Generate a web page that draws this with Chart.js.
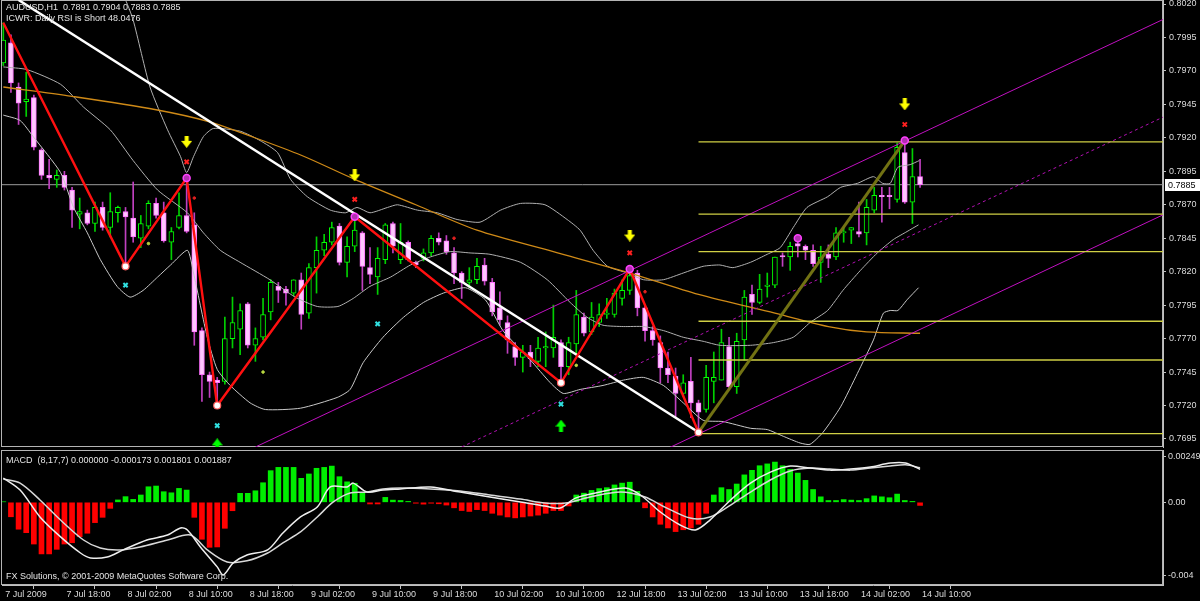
<!DOCTYPE html>
<html>
<head>
<meta charset="utf-8">
<script src="https://cdn.jsdelivr.net/npm/chart.js@4.4.1/dist/chart.umd.min.js"></script>
<style>
html, body { margin: 0; padding: 0; background: #000; width: 1200px; height: 601px; overflow: hidden; }
#pA { position: absolute; left: 0; top: 0; }
#pB { position: absolute; left: 0; top: 448px; }
</style>
</head>
<body>
<canvas id="pA" width="1200" height="448"></canvas>
<canvas id="pB" width="1200" height="153"></canvas>
<script>
// AUDUSD H1, bar 0 = 7 Jul 2009 10:00
var opens = [0.7976,0.7991,0.7958,0.7947,0.7950,0.7911,0.7892,0.7889,0.7892,0.7881,
  0.7863,0.7864,0.7856,0.7868,0.7853,0.7864,0.7865,0.7860,0.7845,0.7854,
  0.7871,0.7864,0.7842,0.7853,0.7862,0.7855,0.7776,0.7743,0.7739,0.7738,
  0.7770,0.7777,0.7796,0.7765,0.7771,0.7790,0.7809,0.7807,0.7804,0.7814,
  0.7789,0.7823,0.7836,0.7842,0.7854,0.7827,0.7839,0.7849,0.7823,0.7816,
  0.7829,0.7856,0.7829,0.7842,0.7827,0.7830,0.7834,0.7845,0.7843,0.7834,
  0.7819,0.7812,0.7814,0.7825,0.7812,0.7793,0.7782,0.7764,0.7756,0.7760,
  0.7753,0.7763,0.7763,0.7767,0.7749,0.7766,0.7786,0.7775,0.7782,0.7788,
  0.7788,0.7800,0.7806,0.7819,0.7793,0.7776,0.7767,0.7748,0.7742,0.7729,
  0.7738,0.7722,0.7717,0.7738,0.7739,0.7764,0.7734,0.7769,0.7803,0.7797,
  0.7809,0.7810,0.7832,0.7831,0.7841,0.7839,0.7836,0.7827,0.7833,0.7831,
  0.7849,0.7851,0.7850,0.7849,0.7866,0.7877,0.7877,0.7874,0.7909,0.7872,
  0.7891];
var highs = [0.8006,0.7997,0.7961,0.7969,0.7952,0.7912,0.7904,0.7896,0.7895,0.7883,
  0.7875,0.7866,0.7872,0.7872,0.7879,0.7869,0.7868,0.7887,0.7862,0.7873,
  0.7875,0.7872,0.7853,0.7879,0.7890,0.7864,0.7778,0.7745,0.7741,0.7786,
  0.7801,0.7796,0.7797,0.7778,0.7800,0.7814,0.7812,0.7809,0.7814,0.7819,
  0.7826,0.7846,0.7848,0.7857,0.7856,0.7846,0.7861,0.7850,0.7838,0.7838,
  0.7856,0.7857,0.7856,0.7843,0.7828,0.7837,0.7847,0.7849,0.7847,0.7838,
  0.7820,0.7823,0.7830,0.7830,0.7815,0.7805,0.7787,0.7767,0.7765,0.7765,
  0.7771,0.7775,0.7795,0.7769,0.7771,0.7806,0.7789,0.7797,0.7796,0.7800,
  0.7807,0.7814,0.7822,0.7821,0.7795,0.7779,0.7772,0.7760,0.7748,0.7743,
  0.7756,0.7724,0.7750,0.7760,0.7777,0.7771,0.7774,0.7806,0.7810,0.7818,
  0.7819,0.7831,0.7834,0.7842,0.7846,0.7840,0.7840,0.7839,0.7840,0.7853,
  0.7853,0.7853,0.7872,0.7874,0.7883,0.7883,0.7883,0.7916,0.7918,0.7912,
  0.7904];
var lows = [0.7974,0.7954,0.7930,0.7936,0.7911,0.7889,0.7882,0.7883,0.7881,0.7853,
  0.7852,0.7855,0.7850,0.7851,0.7846,0.7857,0.7824,0.7842,0.7838,0.7852,
  0.7860,0.7842,0.7829,0.7852,0.7849,0.7765,0.7723,0.7726,0.7720,0.7736,
  0.7763,0.7758,0.7763,0.7753,0.7769,0.7784,0.7797,0.7795,0.7802,0.7777,
  0.7785,0.7804,0.7832,0.7840,0.7825,0.7816,0.7835,0.7806,0.7811,0.7803,
  0.7826,0.7834,0.7826,0.7828,0.7823,0.7828,0.7832,0.7840,0.7833,0.7811,
  0.7800,0.7808,0.7811,0.7810,0.7787,0.7780,0.7759,0.7750,0.7745,0.7749,
  0.7749,0.7749,0.7756,0.7737,0.7743,0.7758,0.7772,0.7773,0.7779,0.7785,
  0.7786,0.7795,0.7803,0.7787,0.7768,0.7765,0.7737,0.7737,0.7711,0.7727,
  0.7711,0.7700,0.7715,0.7722,0.7739,0.7732,0.7729,0.7754,0.7788,0.7796,
  0.7801,0.7808,0.7824,0.7821,0.7831,0.7829,0.7824,0.7812,0.7823,0.7829,
  0.7842,0.7841,0.7846,0.7840,0.7864,0.7857,0.7867,0.7872,0.7871,0.7856,
  0.7883];
var closes = [0.7993,0.7961,0.7946,0.7949,0.7913,0.7892,0.7890,0.7892,0.7883,0.7866,
  0.7865,0.7856,0.7868,0.7853,0.7865,0.7868,0.7861,0.7846,0.7856,0.7871,
  0.7862,0.7843,0.7850,0.7862,0.7850,0.7775,0.7743,0.7738,0.7737,0.7770,
  0.7782,0.7791,0.7765,0.7770,0.7788,0.7812,0.7806,0.7804,0.7814,0.7788,
  0.7823,0.7836,0.7842,0.7853,0.7827,0.7839,0.7851,0.7824,0.7818,0.7830,
  0.7855,0.7839,0.7842,0.7829,0.7825,0.7834,0.7845,0.7842,0.7835,0.7819,
  0.7812,0.7814,0.7824,0.7813,0.7790,0.7784,0.7769,0.7756,0.7760,0.7755,
  0.7763,0.7764,0.7771,0.7749,0.7767,0.7788,0.7774,0.7786,0.7788,0.7789,
  0.7804,0.7806,0.7817,0.7793,0.7776,0.7769,0.7748,0.7743,0.7729,0.7737,
  0.7722,0.7715,0.7741,0.7741,0.7767,0.7734,0.7768,0.7801,0.7797,0.7807,
  0.7810,0.7831,0.7831,0.7839,0.7839,0.7836,0.7826,0.7831,0.7830,0.7849,
  0.7850,0.7853,0.7848,0.7868,0.7877,0.7876,0.7876,0.7913,0.7872,0.7891,
  0.7885];

var priceTicks = [0.8020,0.7995,0.7970,0.7945,0.7920,0.7895,0.7870,0.7845,0.7820,0.7795,0.7770,0.7745,0.7720,0.7695];
var timeTickIdx = [0,8,16,24,32,40,48,56,64,72,80,88,96,104,112,120];
var timeTicks = ['7 Jul 2009','7 Jul 18:00','8 Jul 02:00','8 Jul 10:00','8 Jul 18:00','9 Jul 02:00','9 Jul 10:00',
  '9 Jul 18:00','10 Jul 02:00','10 Jul 10:00','12 Jul 18:00','13 Jul 02:00','13 Jul 10:00','13 Jul 18:00',
  '14 Jul 02:00','14 Jul 10:00'];

// drawn objects, [bar, price]
var zigzag = [[0,0.8006],[16,0.7824],[24,0.7890],[28,0.7720],[46,0.7861],[73,0.7737],[82,0.7822],[91,0.7700]];
var fibLeg = [[91,0.7700],[118,0.7918]];
var trendLine = [[2,0.8023],[91,0.7700]];
var chanUpper = [[33,0.7689],[152,0.8009]];
var chanMid = [[60,0.7689],[152,0.7936]];
var chanLower = [[87,0.7688],[152,0.7863]];
var fibLevels = [0.7917,0.7863,0.7835,0.7783,0.7754,0.7699];
var fibStart = 91;

var slowMa = [[0,0.7958],[9,0.7951],[20,0.7941],[27,0.7932],[32,0.7922],[39,0.7907],[46,0.7889],[54,0.7870],
  [62,0.7851],[72,0.7835],[82,0.7819],[91,0.7803],[101,0.7789],[108,0.7779],[113,0.7775],[120,0.7774]];
var bbUpper = [[12,0.8068],[16,0.8023],[17,0.8008],[19.2,0.7958],[21.5,0.7926],[23.2,0.7906],[24,0.7894],[24.9,0.7906],
  [26.2,0.7921],[27.5,0.7927],[31,0.7925],[33.6,0.7918],[35.9,0.7909],[37.6,0.7889],[39.8,0.7876],[42.8,0.7866],
  [44.8,0.7864],[46.3,0.7868],[48,0.7864],[50.3,0.7868],[51.6,0.7870],[54.2,0.7866],[56.8,0.7864],[59.4,0.7859],
  [62.4,0.7857],[65.1,0.7866],[67.7,0.7871],[70.9,0.7870],[73.8,0.7859],[75.5,0.7851],[77.2,0.7836],[79.1,0.7824],
  [81.7,0.7819],[83.8,0.7814],[86.4,0.7814],[89,0.7819],[91.6,0.7824],[93.8,0.7825],[95.5,0.7823],[97.8,0.7827],
  [100,0.7833],[101.7,0.7838],[103.4,0.7853],[105.2,0.7868],[107.9,0.7876],[109.6,0.7883],[111.8,0.7886],
  [113.9,0.7891],[115.1,0.7886],[116.1,0.7886],[117.1,0.7898],[118.7,0.7900],[119.9,0.7903]];
var bbMid = [[0,0.7973],[3.1,0.7971],[7.5,0.7960],[10.5,0.7943],[14,0.7926],[17,0.7903],[20.2,0.7881],[24.1,0.7864],
  [26.2,0.7849],[28.4,0.7836],[31,0.7827],[34.9,0.7814],[38.2,0.7801],[41.1,0.7794],[43.8,0.7794],[45.8,0.7800],
  [48,0.7809],[50.7,0.7816],[53.3,0.7825],[55.9,0.7831],[58.5,0.7835],[61.1,0.7834],[63.7,0.7833],[67.7,0.7827],
  [71.2,0.7814],[74.2,0.7797],[76.4,0.7786],[78.5,0.7780],[81.2,0.7779],[83.8,0.7779],[86.4,0.7776],[89,0.7771],
  [91.6,0.7768],[93.8,0.7765],[97.8,0.7765],[100.8,0.7767],[103.4,0.7771],[105.6,0.7782],[107.9,0.7791],
  [109.9,0.7806],[112.2,0.7821],[114.4,0.7834],[116.5,0.7844],[118.3,0.7850],[119.8,0.7855]];
var bbLower = [[0,0.7937],[2.2,0.7933],[3.9,0.7921],[7.5,0.7894],[9.2,0.7868],[11,0.7849],[12.7,0.7829],[14.9,0.7809],
  [16.6,0.7801],[18.3,0.7806],[20.2,0.7816],[21.9,0.7825],[24.1,0.7836],[24.9,0.7819],[26.7,0.7771],[28,0.7747],
  [29.7,0.7735],[32.3,0.7722],[34.3,0.7717],[38.9,0.7718],[43.7,0.7726],[45.4,0.7732],[47.1,0.7752],[49.7,0.7771],
  [52.4,0.7786],[55,0.7797],[57.6,0.7804],[60.5,0.7808],[63.1,0.7799],[65.4,0.7776],[69,0.7754],[71.6,0.7737],
  [73.3,0.7729],[75.5,0.7732],[78.5,0.7735],[81.2,0.7739],[83.8,0.7741],[86.4,0.7735],[89,0.7722],[91.6,0.7709],
  [94.2,0.7708],[97.8,0.7703],[100,0.7702],[102.1,0.7697],[104.3,0.7692],[105.6,0.7691],[107.3,0.7700],
  [109.6,0.7719],[111.8,0.7744],[113.9,0.7769],[115.2,0.7789],[116.1,0.7791],[117.1,0.7791],[118.3,0.7799],[119.8,0.7808]];

var sellArrows = [[24,0.7917],[46,0.7892],[82,0.7847],[118,0.7945]];
var sellCross = [[24,0.7902],[46,0.7874],[82,0.7834],[118,0.7930]];
var buyArrows = [[28,0.7691],[73,0.7705]];
var buyCross = [[16,0.7810],[28,0.7705],[49,0.7781],[73,0.7721],[91,0.7686]];
var topMarks = [[24,0.7890],[46,0.7861],[82,0.7822],[104,0.7845],[118,0.7918]];
var lowMarks = [[16,0.7824],[28,0.7720],[73,0.7737],[91,0.7700]];
var redDots = [[25,0.7875],[59,0.7845],[84,0.7805]];
var limeDots = [[19,0.7841],[34,0.7745],[75,0.7750]];

// MACD (8,17,7)
var macdHist = [0.00003,-0.00079,-0.00147,-0.00166,-0.00228,-0.00282,-0.00282,-0.00257,-0.00228,-0.00221,
  -0.00188,-0.00169,-0.00111,-0.00082,-0.00033,0.00013,0.00031,0.00016,0.00040,0.00085,
  0.00089,0.00058,0.00052,0.00076,0.00067,-0.00082,-0.00202,-0.00246,-0.00244,-0.00142,
  -0.00046,0.00049,0.00049,0.00063,0.00107,0.00173,0.00191,0.00191,0.00191,0.00131,
  0.00155,0.00186,0.00191,0.00198,0.00140,0.00112,0.00104,0.00049,-0.00009,-0.00009,
  0.00027,0.00012,0.00010,0.00005,-0.00005,-0.00010,-0.00005,-0.00008,-0.00015,-0.00030,
  -0.00045,-0.00050,-0.00040,-0.00045,-0.00060,-0.00070,-0.00080,-0.00085,-0.00080,-0.00075,
  -0.00070,-0.00060,-0.00045,-0.00045,-0.00020,0.00040,0.00050,0.00065,0.00075,0.00080,
  0.00095,0.00105,0.00110,0.00060,-0.00030,-0.00080,-0.00120,-0.00140,-0.00160,-0.00150,
  -0.00140,-0.00120,-0.00060,0.00040,0.00080,0.00070,0.00100,0.00150,0.00175,0.00200,
  0.00210,0.00220,0.00200,0.00180,0.00160,0.00120,0.00070,0.00030,0.00010,0.00010,
  0.00015,0.00012,0.00010,0.00020,0.00035,0.00030,0.00025,0.00045,0.00010,0.00005,
  -0.00017];
var macdMain = [[0,0.00133],[2.2,0.00067],[4.8,-0.00080],[7.5,-0.00189],[10.1,-0.00277],[11.4,-0.00304],[13.6,-0.00299],
  [15.7,-0.00260],[18.8,-0.00206],[21.5,-0.00179],[23.2,-0.00140],[24.1,-0.00151],[25.8,-0.00244],[28,-0.00353],
  [28.8,-0.00397],[30.1,-0.00331],[31.9,-0.00288],[34.6,-0.00260],[36.6,-0.00168],[38.9,-0.00080],[41.1,-0.00026],
  [42.8,0.00084],[45,0.00084],[45.8,0.00105],[47.6,0.00056],[49.7,0.00067],[52,0.00073],[55.9,0.00084],[59.8,0.00056],
  [63.7,0.00029],[67.7,0.00002],[70.9,-0.00020],[72.9,-0.00031],[74.9,0.00023],[78.1,0.00056],[81.4,0.00078],
  [83.4,0.00040],[86,-0.00053],[88.6,-0.00124],[90.6,-0.00151],[92.5,-0.00097],[95.2,0.00013],[97.8,0.00105],
  [100.4,0.00165],[103,0.00198],[105.6,0.00187],[108.2,0.00176],[110.9,0.00182],[113.5,0.00193],[116.1,0.00215],
  [118.1,0.00215],[120,0.00180]];
var macdSignal = [[0,0.00127],[2.2,0.00105],[4.8,0.00013],[7.5,-0.00097],[10.5,-0.00206],[12.7,-0.00250],[15.3,-0.00260],
  [17.9,-0.00244],[21.5,-0.00206],[24.5,-0.00179],[26.7,-0.00260],[29.3,-0.00326],[31.9,-0.00320],[34.6,-0.00277],
  [36.6,-0.00222],[38.9,-0.00162],[41.1,-0.00080],[43.2,0.00002],[45.4,0.00051],[47.6,0.00056],[49.7,0.00073],
  [52,0.00078],[55.9,0.00073],[59.8,0.00062],[63.7,0.00040],[67.7,0.00018],[70.9,-0.00004],[73.6,-0.00004],
  [76.8,0.00029],[80.8,0.00056],[84,0.00029],[86.6,-0.00026],[89.9,-0.00086],[92.5,-0.00080],[95.2,-0.00015],
  [97.8,0.00056],[100.4,0.00122],[103,0.00171],[105.6,0.00187],[108.2,0.00182],[110.9,0.00176],[113.5,0.00187],
  [116.1,0.00198],[118.1,0.00205],[120,0.00189]];
var macdTicks = [0.00249, 0, -0.004];
var macdTickText = ['0.00249', '0.00', '-0.004'];

Chart.defaults.font.family = '"Liberation Sans", Arial, sans-serif';
Chart.defaults.font.size = 9;

var xMin = -0.17, xMax = 151.8;
var last = closes.length - 1;
var idx = closes.map(function (c, i) { return i; });
var isUp = closes.map(function (c, i) { return c >= opens[i]; });

function pts(arr) { return arr.map(function (p) { return {x: p[0], y: p[1]}; }); }

function line(data, color, width, order, dash, tension) {
  return { type: 'line', data: data, borderColor: color, borderWidth: width, pointRadius: 0,
    tension: tension || 0, fill: false, borderDash: dash || [], order: order };
}

function marks(data, style, radius, stroke, fillc, bw, order) {
  return { type: 'scatter', data: pts(data), showLine: false, pointStyle: style, pointRadius: radius,
    pointBorderColor: stroke, pointBackgroundColor: fillc, pointBorderWidth: bw, order: order };
}

function arrowImg(color, down) {
  var c = document.createElement('canvas');
  c.width = 11; c.height = 12;
  var g = c.getContext('2d');
  g.fillStyle = color;
  var p = [[3.5,0],[7.5,0],[7.5,5],[11,5],[5.5,12],[0,5],[3.5,5]];
  g.beginPath();
  p.forEach(function (q, k) {
    var y = down ? q[1] : 12 - q[1];
    if (k) g.lineTo(q[0], y); else g.moveTo(q[0], y);
  });
  g.closePath();
  g.fill();
  return c;
}

// no half-label padding, the panels are fixed like the terminal's
function noPad(s) {
  s.paddingTop = 0; s.paddingBottom = 0; s.paddingLeft = 0; s.paddingRight = 0;
}

var frame = {
  id: 'frame',
  beforeDatasetsDraw: function (chart) {
    var a = chart.chartArea, g = chart.ctx;
    g.save();
    g.strokeStyle = '#b4b4b4';
    g.lineWidth = 1;
    g.strokeRect(a.left - 0.5, a.top + 0.5, a.right - a.left, a.bottom - a.top - 1);
    g.restore();
  }
};

var mainText = {
  id: 'mainText',
  afterDraw: function (chart) {
    var g = chart.ctx;
    g.save();
    g.font = '9px "Liberation Sans", Arial, sans-serif';
    g.textBaseline = 'middle';
    g.fillStyle = '#e4e4e4';
    var ohlc = [opens[last], highs[last], lows[last], closes[last]].map(function (v) { return v.toFixed(4); });
    g.fillText('AUDUSD,H1  ' + ohlc.join(' '), 6, 8);
    g.fillText('ICWR: Daily RSI is Short 48.0476', 6, 19);
    // current price tag on the axis
    var y = Math.round(chart.scales.y.getPixelForValue(closes[last]));
    g.fillStyle = '#ffffff';
    g.fillRect(chart.chartArea.right + 2, y - 6, 35, 12);
    g.fillStyle = '#000000';
    g.fillText(closes[last].toFixed(4), chart.chartArea.right + 5, y + 0.5);
    g.restore();
  }
};

var macdText = {
  id: 'macdText',
  afterDraw: function (chart) {
    var g = chart.ctx;
    g.save();
    g.font = '9px "Liberation Sans", Arial, sans-serif';
    g.textBaseline = 'middle';
    g.fillStyle = '#e4e4e4';
    g.fillText('MACD  (8,17,7) 0.000000 -0.000173 0.001801 0.001887', 6, 13);
    g.fillText('FX Solutions, \u00a9 2001-2009 MetaQuotes Software Corp.', 6, 129);
    g.restore();
  }
};

var fibSets = fibLevels.map(function (lv) {
  return line([{x: fibStart, y: lv}, {x: xMax, y: lv}], '#cfcf45', 1.4, 12);
});

var ctxA = document.getElementById('pA').getContext('2d');
var chartA = new Chart(ctxA, {
  type: 'bar',
  data: {
    datasets: [
      { type: 'bar', data: idx.map(function (i) { return {x: i, y: [lows[i], highs[i]]}; }),
        backgroundColor: isUp.map(function (u) { return u ? '#00d000' : '#c040c0'; }),
        barThickness: 1, grouped: false, order: 21 },
      { type: 'bar', data: idx.map(function (i) { return {x: i, y: [opens[i], closes[i]]}; }),
        backgroundColor: isUp.map(function (u) { return u ? '#000000' : '#ffc6ff'; }),
        borderColor: isUp.map(function (u) { return u ? '#00ff00' : '#ff70ff'; }),
        borderWidth: 1, borderSkipped: false, barThickness: 5, minBarLength: 1, grouped: false, order: 20 },
      line([{x: xMin, y: closes[last]}, {x: xMax, y: closes[last]}], '#9c9c9c', 1, 25),
      line(pts(bbUpper), '#b0b0b0', 1, 15, null, 0.2),
      line(pts(bbMid), '#b0b0b0', 1, 15, null, 0.2),
      line(pts(bbLower), '#c8c8c8', 1, 15, null, 0.2),
      line(pts(slowMa), '#cf8a17', 1.3, 14, null, 0.3),
      line(pts(chanUpper), '#c010c0', 1, 13),
      line(pts(chanMid), '#b010b0', 1, 13, [3, 3]),
      line(pts(chanLower), '#c010c0', 1, 13),
      line(pts(trendLine), '#ffffff', 2.5, 8),
      line(pts(zigzag), '#ff1010', 2.4, 7),
      line(pts(fibLeg), 'rgba(120,120,20,0.95)', 3, 7),
      marks(topMarks, 'circle', 3.5, '#ff40ff', '#b030b0', 1.5, 3),
      marks(lowMarks, 'circle', 3.5, '#ff6060', '#ffffff', 1.2, 3),
      marks(sellCross, 'crossRot', 3, '#ff2020', '#ff2020', 2, 2),
      marks(buyCross, 'crossRot', 3, '#30e0e0', '#30e0e0', 2, 2),
      marks(redDots, 'circle', 1.3, '#e02020', '#e02020', 1, 2),
      marks(limeDots, 'circle', 1.3, '#b8d840', '#b8d840', 1, 2),
      marks(sellArrows, arrowImg('#ffff00', true), 6, '#ffff00', '#ffff00', 1, 1),
      marks(buyArrows, arrowImg('#00ff00', false), 6, '#00ff00', '#00ff00', 1, 1)
    ].concat(fibSets)
  },
  options: {
    responsive: false,
    animation: false,
    layout: { autoPadding: false, padding: { left: 2, right: 0, top: 0, bottom: 1 } },
    plugins: { legend: { display: false }, tooltip: { enabled: false } },
    scales: {
      x: { type: 'linear', min: xMin, max: xMax, offset: false, display: false },
      y: {
        type: 'linear', position: 'right', min: 0.7689, max: 0.8023,
        afterFit: function (s) { s.width = 37; noPad(s); },
        afterBuildTicks: function (s) { s.ticks = priceTicks.map(function (v) { return {value: v}; }); },
        ticks: { color: '#dcdcdc', padding: 3, callback: function (v) { return v.toFixed(4); } },
        grid: { drawOnChartArea: false, tickLength: 3, color: '#c0c0c0' },
        border: { color: '#c0c0c0' }
      }
    }
  },
  plugins: [frame, mainText]
});

var ctxB = document.getElementById('pB').getContext('2d');
var chartB = new Chart(ctxB, {
  type: 'bar',
  data: {
    datasets: [
      { type: 'bar', data: idx.map(function (i) { return {x: i, y: macdHist[i]}; }),
        backgroundColor: macdHist.map(function (v) { return v >= 0 ? '#00ee00' : '#ff0000'; }),
        barThickness: 5, grouped: false, order: 5 },
      line(pts(macdMain), '#eeeeee', 1.5, 2, null, 0.3),
      line(pts(macdSignal), '#d8d8d8', 1.5, 2, null, 0.3)
    ]
  },
  options: {
    responsive: false,
    animation: false,
    layout: { autoPadding: false, padding: { left: 2, right: 0, top: 2, bottom: 0 } },
    plugins: { legend: { display: false }, tooltip: { enabled: false } },
    scales: {
      x: {
        type: 'linear', min: xMin, max: xMax, offset: false,
        afterFit: function (s) { s.height = 16; noPad(s); },
        afterBuildTicks: function (s) { s.ticks = timeTickIdx.map(function (v) { return {value: v}; }); },
        ticks: { color: '#dcdcdc', autoSkip: false, maxRotation: 0, align: 'start', padding: 0, labelOffset: 2,
          callback: function (v) { return timeTicks[timeTickIdx.indexOf(v)]; } },
        grid: { drawOnChartArea: false, tickLength: 4, color: '#c0c0c0' },
        border: { color: '#c0c0c0' }
      },
      y: {
        type: 'linear', position: 'right', min: -0.00452, max: 0.00286,
        afterFit: function (s) { s.width = 37; noPad(s); },
        afterBuildTicks: function (s) { s.ticks = macdTicks.map(function (v) { return {value: v}; }); },
        ticks: { color: '#dcdcdc', padding: 2,
          callback: function (v) { return macdTickText[macdTicks.indexOf(v)]; } },
        grid: { drawOnChartArea: false, tickLength: 3, color: '#c0c0c0' },
        border: { color: '#c0c0c0' }
      }
    }
  },
  plugins: [frame, macdText]
});
</script>
</body>
</html>
